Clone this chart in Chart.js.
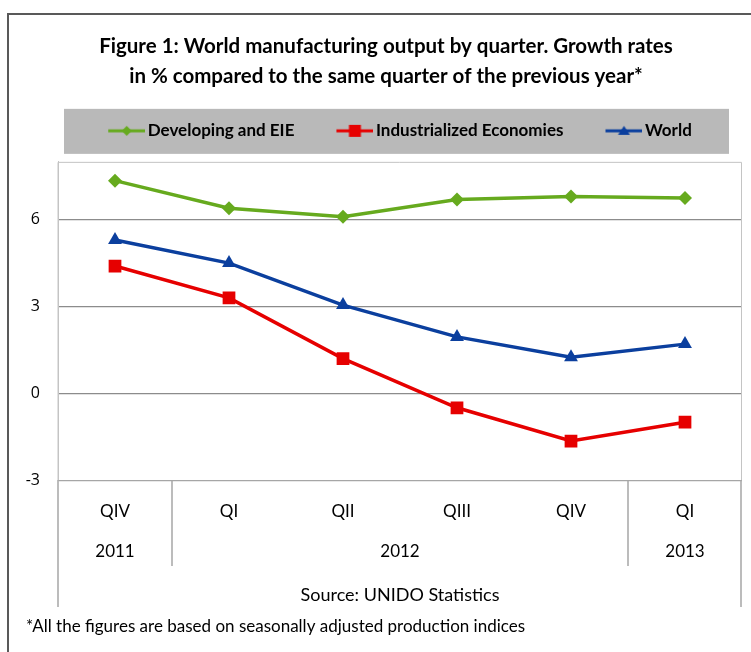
<!DOCTYPE html>
<html>
<head>
<meta charset="utf-8">
<script src="https://cdn.jsdelivr.net/npm/chart.js@4"></script>
<style>
  html, body { margin: 0; padding: 0; background: #fff; }
  #wrap { width: 751px; height: 652px; }
</style>
</head>
<body>
<div id="wrap"><canvas id="growthChart"></canvas></div>
<script>
const quarters = ['QIV', 'QI', 'QII', 'QIII', 'QIV', 'QI'];
const years = ['2011', '2012', '2013'];
const yearCenters = [0, 2.5, 5];
const yearBreaks = [0.5, 4.5];

const developing = [7.35, 6.4, 6.1, 6.7, 6.8, 6.75];
const industrialized = [4.4, 3.3, 1.2, -0.5, -1.65, -1.0];
const world = [5.3, 4.5, 3.05, 1.95, 1.25, 1.7];

const green = '#66aa1e';
const red = '#e60000';
const blue = '#0b3f9e';
const fontFamily = 'Lato, "Open Sans", sans-serif';

const legendBoxWidth = 59;

// legend markers: a short line with the series marker, left part kept empty as spacing
function legendIcon(color, shape) {
    const c = document.createElement('canvas');
    c.width = legendBoxWidth + 12;
    c.height = 16;
    const g = c.getContext('2d');
    const x0 = c.width - 37;
    const mx = c.width - 18.5;
    g.strokeStyle = color;
    g.fillStyle = color;
    g.lineWidth = 3;
    g.beginPath();
    g.moveTo(x0, 8);
    g.lineTo(c.width, 8);
    g.stroke();
    g.beginPath();
    if (shape === 'diamond') {
        g.moveTo(mx, 3); g.lineTo(mx + 5, 8); g.lineTo(mx, 13); g.lineTo(mx - 5, 8);
    } else if (shape === 'square') {
        g.rect(mx - 6, 2, 12, 12);
    } else {
        g.moveTo(mx, 3); g.lineTo(mx + 6, 12); g.lineTo(mx - 6, 12);
    }
    g.closePath();
    g.fill();
    return c;
}
const icons = [legendIcon(green, 'diamond'), legendIcon(red, 'square'), legendIcon(blue, 'triangle')];

const legendSpacing = {
    id: 'legendSpacing',
    beforeInit(chart) {
        const fit = chart.legend.fit;
        chart.legend.fit = function () {
            fit.bind(chart.legend)();
            this.height += 12.5;
        };
    }
};

const framePlugin = {
    id: 'frame',
    beforeDraw(chart) {
        const ctx = chart.ctx;
        ctx.save();
        ctx.fillStyle = '#fff';
        ctx.fillRect(0, 0, chart.width, chart.height);
        // outer border
        ctx.strokeStyle = '#595959';
        ctx.lineWidth = 2;
        ctx.beginPath();
        ctx.moveTo(8, chart.height);
        ctx.lineTo(8, 14);
        ctx.lineTo(chart.width, 14);
        ctx.stroke();
        // grey legend band
        const lg = chart.legend;
        ctx.fillStyle = '#b9b9b9';
        ctx.fillRect(64, lg.top + 0.5, 665, 45);
        ctx.restore();
    },
    beforeDatasetsDraw(chart) {
        const ctx = chart.ctx;
        const a = chart.chartArea;
        const x = chart.scales.x;
        ctx.save();
        ctx.strokeStyle = '#c4c4c4';
        ctx.lineWidth = 1;
        ctx.beginPath();
        ctx.moveTo(a.left, a.bottom);
        ctx.lineTo(a.left, a.top + 0.5);
        ctx.lineTo(a.right - 0.5, a.top + 0.5);
        ctx.lineTo(a.right - 0.5, a.bottom);
        ctx.stroke();
        // category table lines below the plot
        ctx.strokeStyle = '#a6a6a6';
        ctx.lineWidth = 1.5;
        ctx.beginPath();
        ctx.moveTo(a.left, a.bottom);
        ctx.lineTo(a.left, a.bottom + 127);
        ctx.moveTo(a.right - 1, a.bottom);
        ctx.lineTo(a.right - 1, a.bottom + 127);
        yearBreaks.forEach(b => {
            const px = (x.getPixelForValue(Math.floor(b)) + x.getPixelForValue(Math.ceil(b))) / 2;
            ctx.moveTo(px, a.bottom);
            ctx.lineTo(px, a.bottom + 86);
        });
        ctx.stroke();
        ctx.restore();
    }
};

new Chart(document.getElementById('growthChart'), {
    type: 'line',
    data: {
        labels: quarters,
        datasets: [{
            label: 'Developing and EIE',
            data: developing,
            borderColor: green,
            backgroundColor: green,
            borderWidth: 3.5,
            pointStyle: 'rectRot',
            pointRadius: 7,
            pointBorderWidth: 0
        }, {
            label: 'Industrialized Economies',
            data: industrialized,
            borderColor: red,
            backgroundColor: red,
            borderWidth: 3.5,
            pointStyle: 'rect',
            pointRadius: 9,
            pointBorderWidth: 0
        }, {
            label: 'World',
            data: world,
            borderColor: blue,
            backgroundColor: blue,
            borderWidth: 3.5,
            pointStyle: 'triangle',
            pointRadius: 8,
            pointBorderWidth: 0
        }]
    },
    options: {
        responsive: true,
        maintainAspectRatio: false,
        animation: false,
        layout: {
            padding: { left: 26, right: 5, top: 0, bottom: 0 }
        },
        elements: { line: { tension: 0 } },
        scales: {
            x: {
                type: 'category',
                offset: true,
                weight: 0,
                grid: { display: false },
                border: { display: false },
                ticks: {
                    color: '#000',
                    font: { family: fontFamily, size: 17 },
                    padding: 13,
                    maxRotation: 0
                },
                afterFit: scale => { scale.height = 52; }
            },
            x2: {
                type: 'linear',
                position: 'bottom',
                weight: 1,
                min: -0.5,
                max: 5.5,
                grid: { display: false },
                border: { display: false },
                afterBuildTicks: scale => {
                    scale.ticks = yearCenters.map(v => ({ value: v }));
                },
                ticks: {
                    color: '#000',
                    autoSkip: false,
                    maxRotation: 0,
                    padding: 1,
                    font: { family: fontFamily, size: 17 },
                    callback: value => years[yearCenters.indexOf(value)]
                },
                title: {
                    display: true,
                    text: 'Source: UNIDO Statistics',
                    color: '#000',
                    font: { family: fontFamily, size: 18 },
                    padding: { top: 22, bottom: 2.5 }
                }
            },
            y: {
                min: -3,
                max: 8,
                grid: {
                    color: c => c.tick.value === -3 ? '#a6a6a6' : '#8c8c8c',
                    lineWidth: 1.2,
                    drawTicks: false
                },
                border: { color: '#c4c4c4' },
                ticks: {
                    stepSize: 3,
                    includeBounds: false,
                    color: '#000',
                    padding: 18,
                    font: { family: '"Open Sans", Lato, sans-serif', size: 16 },
                    callback: value => String(value)
                },
                afterFit: scale => { scale.width = 32; }
            }
        },
        plugins: {
            title: {
                display: true,
                text: ['Figure 1: World manufacturing output by quarter. Growth rates',
                       'in % compared to the same quarter of the previous year*'],
                color: '#000',
                font: { family: fontFamily, size: 20.5, weight: 'bold', lineHeight: 1.46 },
                padding: { top: 31, bottom: 17.5 }
            },
            subtitle: {
                display: true,
                position: 'bottom',
                align: 'start',
                text: '*All the figures are based on seasonally adjusted production indices',
                color: '#000',
                font: { family: fontFamily, size: 17 },
                padding: { top: 8, bottom: 15 }
            },
            legend: {
                labels: {
                    usePointStyle: true,
                    pointStyleWidth: legendBoxWidth,
                    padding: 14,
                    color: '#000',
                    font: { family: fontFamily, size: 17, weight: 'bold' },
                    generateLabels: chart => chart.data.datasets.map((ds, i) => ({
                        text: ds.label,
                        pointStyle: icons[i],
                        fillStyle: ds.borderColor,
                        strokeStyle: ds.borderColor,
                        lineWidth: 0,
                        fontColor: '#000',
                        hidden: false,
                        datasetIndex: i
                    }))
                }
            },
            tooltip: { enabled: false }
        }
    },
    plugins: [legendSpacing, framePlugin]
});
</script>
</body>
</html>
